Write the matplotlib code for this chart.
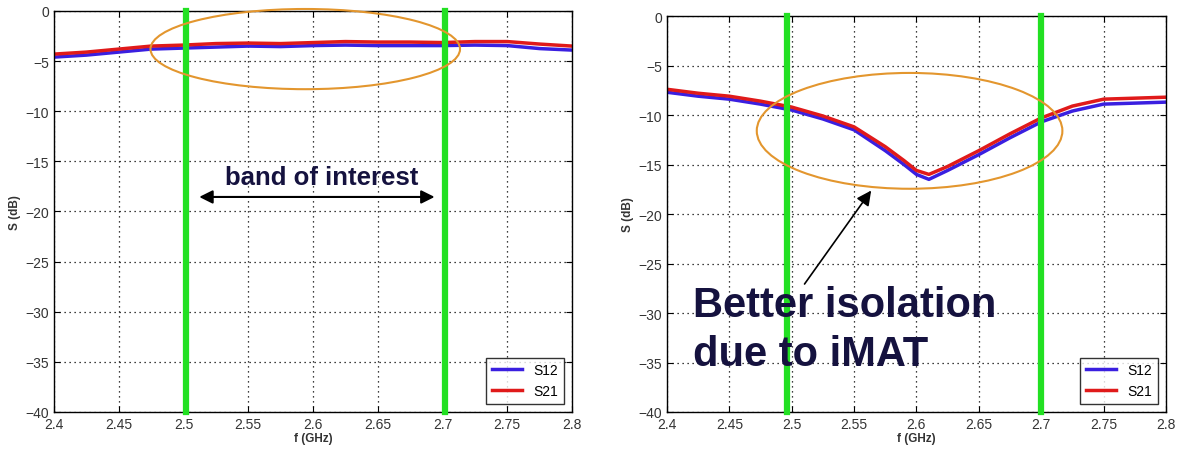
import matplotlib
matplotlib.use("Agg")
from matplotlib import pyplot as plt
from matplotlib.patches import Ellipse

plt.rcParams["font.family"] = ["Liberation Sans", "DejaVu Sans"]

# frequency points (GHz)
f_left = [2.40, 2.425, 2.45, 2.475, 2.50, 2.525, 2.55, 2.575, 2.60, 2.625, 2.65, 2.675,
          2.70, 2.725, 2.75, 2.775, 2.80]
s12_left = [-4.6, -4.4, -4.1, -3.8, -3.7, -3.6, -3.5, -3.55, -3.45, -3.4, -3.45, -3.45,
            -3.45, -3.4, -3.45, -3.75, -3.9]
s21_left = [-4.3, -4.1, -3.8, -3.5, -3.4, -3.25, -3.2, -3.25, -3.15, -3.05, -3.1, -3.1,
            -3.15, -3.05, -3.05, -3.3, -3.5]

f_right = [2.40, 2.425, 2.45, 2.475, 2.50, 2.525, 2.55, 2.575, 2.59, 2.60, 2.61, 2.625,
           2.65, 2.675, 2.70, 2.725, 2.75, 2.775, 2.80]
s12_right = [-7.7, -8.1, -8.4, -8.9, -9.5, -10.4, -11.5, -13.6, -15.0, -16.0, -16.5, -15.6,
             -14.0, -12.3, -10.7, -9.6, -8.9, -8.8, -8.7]
s21_right = [-7.4, -7.8, -8.1, -8.6, -9.2, -10.1, -11.2, -13.2, -14.6, -15.6, -16.0, -15.2,
             -13.6, -11.9, -10.3, -9.1, -8.4, -8.3, -8.2]

xticks = [2.4, 2.45, 2.5, 2.55, 2.6, 2.65, 2.7, 2.75, 2.8]
xticklabels = ["2.4", "2.45", "2.5", "2.55", "2.6", "2.65", "2.7", "2.75", "2.8"]
yticks = [0, -5, -10, -15, -20, -25, -30, -35, -40]
yticklabels = ["0", "\u22125", "\u221210", "\u221215", "\u221220", "\u221225", "\u221230",
               "\u221235", "\u221240"]

green_left = [2.502, 2.702]
green_right = [2.496, 2.700]

BLUE = "#3a1fe0"
RED = "#e01a1a"
GREEN = "#22e022"
ORANGE = "#e3962e"
NAVY = "#15123f"

fig = plt.figure(figsize=(11.79, 4.56), dpi=100)
ax1 = fig.add_axes([0.0458, 0.0943, 0.4394, 0.8794])
ax2 = fig.add_axes([0.5657, 0.0943, 0.4232, 0.8684])


def style(ax):
    ax.set_xlim(2.4, 2.8)
    ax.set_ylim(-40, 0)
    ax.set_xticks(xticks)
    ax.set_xticklabels(xticklabels)
    ax.set_yticks(yticks)
    ax.set_yticklabels(yticklabels)
    ax.tick_params(direction="in", top=True, right=True, labelsize=10,
                   labelcolor="#333333", length=4)
    ax.grid(True, color="black", linestyle=(0, (1, 3)), linewidth=0.9)
    for s in ax.spines.values():
        s.set_linewidth(1.0)
    ax.set_xlabel("f (GHz)", fontsize=8.5, fontweight="bold", color="#333333", labelpad=1)
    ax.set_ylabel("S (dB)", fontsize=8.5, fontweight="bold", color="#333333", labelpad=3)


# left panel
style(ax1)
ax1.plot(f_left, s12_left, color=BLUE, linewidth=2.5, label="S12")
ax1.plot(f_left, s21_left, color=RED, linewidth=2.5, label="S21")
for g in green_left:
    ax1.plot([g, g], [-40, 0], color=GREEN, linewidth=4.5, clip_on=False, zorder=3)
ax1.add_patch(Ellipse((2.594, -3.8), 0.239, 8.0, fill=False, edgecolor=ORANGE,
                      linewidth=1.5, clip_on=False, zorder=4))
ax1.annotate("", xy=(2.51, -18.55), xytext=(2.696, -18.55),
             arrowprops=dict(arrowstyle="<|-|>", color="black", lw=1.5,
                             mutation_scale=20))
ax1.text(2.607, -17.25, "band of interest", ha="center", va="baseline", fontsize=18.5,
         fontweight="bold", color=NAVY)
leg1 = ax1.legend(loc="lower right", fontsize=10, frameon=True, fancybox=False,
                  edgecolor="black", handlelength=2.2, borderaxespad=0.6)
leg1.get_frame().set_linewidth(1.0)

# right panel
style(ax2)
ax2.plot(f_right, s12_right, color=BLUE, linewidth=2.5, label="S12")
ax2.plot(f_right, s21_right, color=RED, linewidth=2.5, label="S21")
for g in green_right:
    ax2.plot([g, g], [-40, 0], color=GREEN, linewidth=4.5, clip_on=False, zorder=3)
ax2.add_patch(Ellipse((2.5945, -11.6), 0.245, 11.7, fill=False, edgecolor=ORANGE,
                      linewidth=1.5, zorder=4))
ax2.annotate("", xy=(2.565, -17.4), xytext=(2.509, -27.3),
             arrowprops=dict(arrowstyle="-|>", color="black", lw=1.2,
                             mutation_scale=22))
ax2.text(2.421, -30.3, "Better isolation", ha="left", va="baseline",
         fontsize=30, fontweight="bold", color=NAVY, zorder=5)
ax2.text(2.421, -35.25, "due to iMAT", ha="left", va="baseline",
         fontsize=30, fontweight="bold", color=NAVY, zorder=5)
leg2 = ax2.legend(loc="lower right", fontsize=10, frameon=True, fancybox=False,
                  edgecolor="black", handlelength=2.2, borderaxespad=0.6)
leg2.get_frame().set_linewidth(1.0)

fig.savefig("out.png", dpi=100)
